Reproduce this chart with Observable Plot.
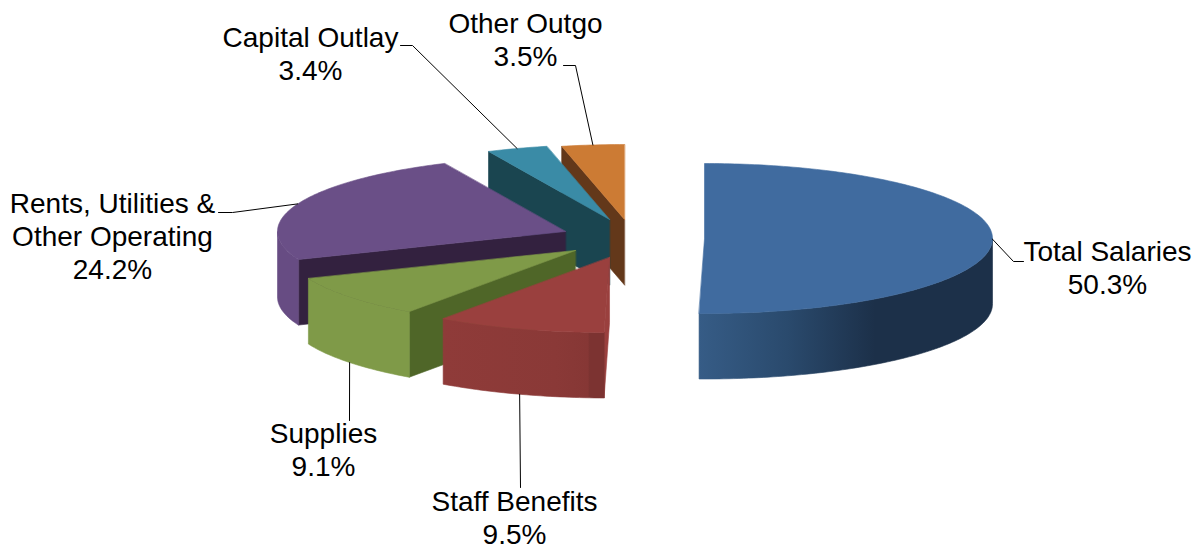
<!DOCTYPE html>
<html>
<head>
<meta charset="utf-8">
<script src="https://cdn.jsdelivr.net/npm/d3@7"></script>
<script src="https://cdn.jsdelivr.net/npm/@observablehq/plot@0.6"></script>
<style>html,body{margin:0;padding:0;background:#fff}svg{display:block}</style>
</head>
<body>
<div id="chart"></div>
<script>
// Data
const categories = ["Total Salaries", "Staff Benefits", "Supplies", "Rents, Utilities &\nOther Operating", "Capital Outlay", "Other Outgo"];
const shares = [50.3, 9.5, 9.1, 24.2, 3.4, 3.5];

// Look of each slice (same order as categories)
const topColors = ["#406b9f", "#9a403e", "#7f9a48", "#6a4f87", "#3a8ba6", "#cc7b34"];
const wallColors = ["url(#wall0)", "url(#wall1)", "#7f9a48", "#674c83", "#3a8ba6", "#cc7b34"];
const cutColors = ["#1c3049", "#9a403e", "#4f6628", "#33213f", "#1a4550", "#63381a"];

// Projection: each exploded slice has its own apex on the page
const width = 1199, height = 549;
const rx = 288, ry = 75, depth = 65.5;
const apexX = [704, 609, 575, 565, 609, 624];
const apexY = [238, 257, 250, 231, 219, 219];
const cutEdge = ["none", "start", "start", "start", "start", "start"]; // radial wall that faces the viewer
const drawOrder = [0, 5, 4, 3, 2, 1];

// Labels: text centre and leader elbow
const labelX = [1107, 514, 323, 112, 310, 525];
const labelY = [266.5, 516, 448, 235, 52, 38];
const elbows = [
  [[1013, 261], [1023, 261]],
  [[520, 487]],
  [[349, 420]],
  [[232, 212], [218, 212]],
  [[412, 45], [400, 45]],
  [[575, 65], [563, 65]]
];

const total = d3.sum(shares);
let cum = 0;
const slices = shares.map((v, i) => {
  const a0 = cum / total * 360; cum += v;
  const a1 = cum / total * 360;
  return {i, a0, a1, mid: (a0 + a1) / 2};
});
const rad = Math.PI / 180;
const ex = (s, a) => apexX[s.i] + rx * Math.sin(a * rad);
const ey = (s, a, d = 0) => apexY[s.i] - ry * Math.cos(a * rad) + d;
function arcAngles(a0, a1) {
  const n = Math.max(2, Math.ceil(a1 - a0));
  return d3.range(n + 1).map(k => a0 + (a1 - a0) * k / n);
}
function faceMark(points, fill) {
  return Plot.line(points, {x: "x", y: "y", fill, stroke: fill, strokeWidth: 0.6, curve: "linear-closed"});
}
const marks = [];

// gradient defs
marks.push(() => {
  const defs = d3.create("svg:defs");
  const add = (id, stops) => {
    const g = defs.append("linearGradient").attr("id", id).attr("x1", 0).attr("x2", 1).attr("y1", 0).attr("y2", 0);
    stops.forEach(([o, c]) => g.append("stop").attr("offset", o).attr("stop-color", c));
  };
  add("wall0", [[0, "#365c86"], [0.3, "#2a4a6d"], [0.6, "#1c3049"], [1, "#1c3049"]]);
  add("wall1", [[0, "#8f3b39"], [0.7, "#8a3937"], [0.9, "#863735"], [0.91, "#7c3331"], [1, "#7c3331"]]);
  return defs.node();
});

for (const i of drawOrder) {
  const s = slices[i];
  const ax = apexX[i], ay = apexY[i];
  // radial cut wall
  if (cutEdge[i] === "start") {
    const a = s.a0;
    marks.push(faceMark([
      {x: ax, y: ay}, {x: ex(s, a), y: ey(s, a)},
      {x: ex(s, a), y: ey(s, a, depth)}, {x: ax, y: ay + depth}
    ], cutColors[i]));
  }
  // outer wall, front half only
  const w0 = Math.max(s.a0, 90), w1 = Math.min(s.a1, 270);
  if (w1 > w0) {
    const as = arcAngles(w0, w1);
    marks.push(faceMark([
      ...as.map(a => ({x: ex(s, a), y: ey(s, a)})),
      ...as.slice().reverse().map(a => ({x: ex(s, a), y: ey(s, a, depth)}))
    ], wallColors[i]));
  }
  // top
  marks.push(faceMark([
    {x: ax, y: ay},
    ...arcAngles(s.a0, s.a1).map(a => ({x: ex(s, a), y: ey(s, a)}))
  ], topColors[i]));
}

// Leaders
slices.forEach(s => {
  const front = s.mid > 150 && s.mid < 250;
  const start = {x: ex(s, s.mid), y: ey(s, s.mid, front ? depth : 0)};
  const pts = [start, ...elbows[s.i].map(([x, y]) => ({x, y}))];
  marks.push(Plot.line(pts, {x: "x", y: "y", stroke: "#000", strokeWidth: 1, curve: "linear"}));
});

// Labels
const labelRows = categories.map((c, i) => ({text: `${c}\n${shares[i].toFixed(1)}%`, x: labelX[i], y: labelY[i]}));
marks.push(Plot.text(labelRows, {
  x: "x", y: "y", text: "text", fill: "#000", textAnchor: "middle", lineAnchor: "middle",
  lineHeight: 1.18, fontSize: 28, fontFamily: "'Liberation Sans', Arial, sans-serif"
}));

const chart = Plot.plot({
  width, height,
  margin: 0,
  x: {domain: [0, width], range: [0, width], axis: null},
  y: {domain: [0, height], range: [0, height], axis: null},
  style: {background: "#fff"},
  marks
});
document.getElementById("chart").appendChild(chart);
</script>
</body>
</html>
